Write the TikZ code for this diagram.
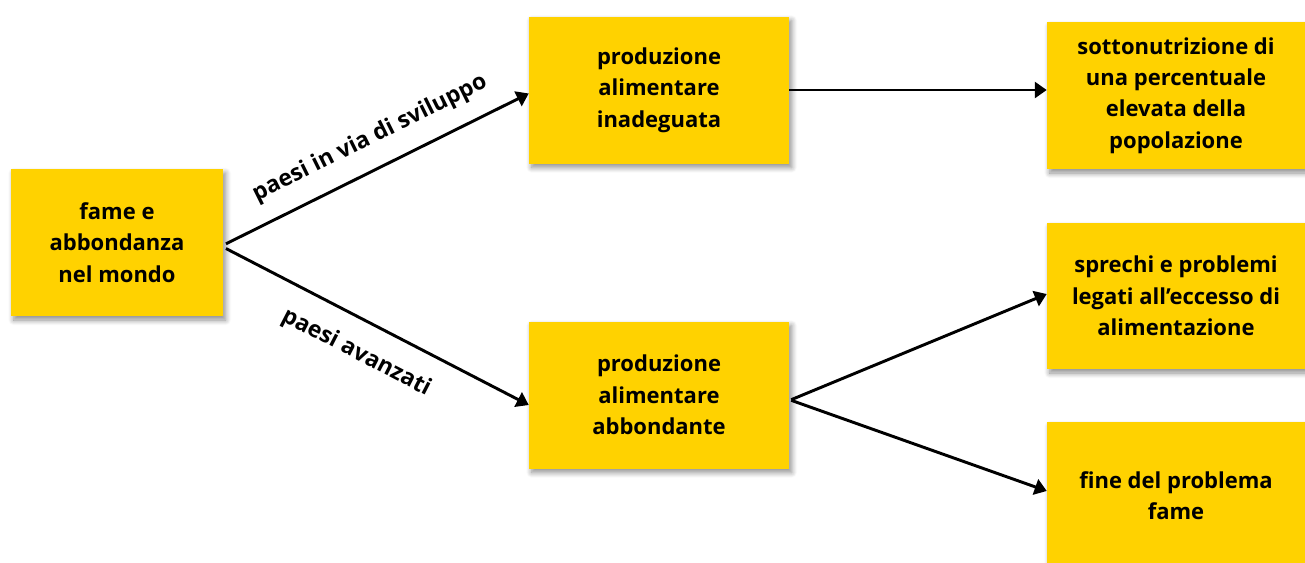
\documentclass[tikz,border=0pt]{standalone}
\usepackage{fontspec}
\setmainfont{Open Sans}
\usetikzlibrary{arrows.meta,shadows.blur}
\definecolor{boxyellow}{HTML}{FFD200}
\begin{document}
\begin{tikzpicture}[x=0.75pt,y=-0.75pt,
  box/.style={fill=boxyellow, draw=none, align=center, inner sep=0pt,
    font=\bfseries\fontsize{16.5}{23.6}\selectfont,
    blur shadow={shadow xshift=2pt, shadow yshift=-3pt, shadow blur steps=8, shadow opacity=45, shadow blur radius=4pt}},
  conn/.style={line width=2.2pt, -{Triangle[length=9pt,width=12pt]}},
  elabel/.style={font=\bfseries\fontsize{17.2}{20}\selectfont, sloped, inner sep=0pt}]
\useasboundingbox (0,0) rectangle (1305,562);
\node[box, minimum width=159pt, minimum height=110.25pt] (A) at (117,242.5) {fame e\\abbondanza\\nel mondo};
\node[box, minimum width=195pt, minimum height=110.25pt] (B) at (659,90) {produzione\\alimentare\\inadeguata};
\node[box, minimum width=193.5pt, minimum height=110.25pt] (C) at (1176,95.5) {sottonutrizione di\\una percentuale\\elevata della\\popolazione};
\node[box, minimum width=195pt, minimum height=110.25pt] (D) at (659,395) {produzione\\alimentare\\abbondante};
\node[box, minimum width=193.5pt, minimum height=109.5pt] (E) at (1176,296) {sprechi e problemi\\legati all’eccesso di\\alimentazione};
\node[box, minimum width=193.5pt, minimum height=110.25pt] (F) at (1176,495.5) {fine del problema\\fame};
\draw[conn] ([xshift=2pt,yshift=-1pt]A.east) -- ([yshift=-2.6pt]B.west)
  node[elabel, pos=0.52, above=13pt] (l1) {paesi in via di sviluppo};
\draw[conn] ([xshift=2pt,yshift=-4.5pt]A.east) -- ([yshift=-7.5pt]D.west)
  node[elabel, pos=0.48, below=15pt] (l2) {paesi avanzati};
\draw[conn] (B.east) -- (B.east -| C.west);
\draw[conn] ([xshift=1.5pt,yshift=-3.5pt]D.east) -- ([yshift=1.5pt]E.west);
\draw[conn] ([xshift=1.5pt,yshift=-4pt]D.east) -- ([yshift=3.4pt]F.west);
\end{tikzpicture}
\end{document}
